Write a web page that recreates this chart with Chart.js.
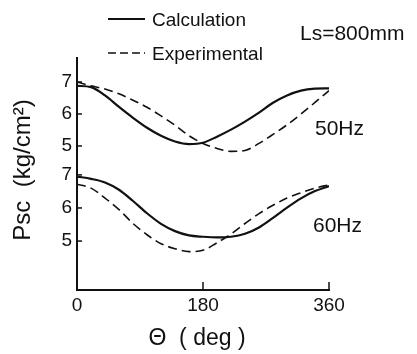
<!DOCTYPE html>
<html>
<head>
<meta charset="utf-8">
<title>Psc vs theta</title>
<script src="https://cdn.jsdelivr.net/npm/chart.js@4/dist/chart.umd.min.js"></script>
<style>
  body { margin: 0; background: #fff; }
  #wrap { width: 417px; height: 354px; position: relative; }
</style>
</head>
<body>
<div id="wrap"><canvas id="pscChart"></canvas></div>
<script>
// angle of the samples (deg)
const theta = [0, 20, 40, 60, 80, 100, 120, 140, 160, 180, 200, 220, 240, 260, 280, 300, 320, 340, 360];

// 50 Hz panel (kg/cm2)
const calc50 = [6.88, 6.84, 6.58, 6.22, 5.88, 5.57, 5.32, 5.14, 5.06, 5.10, 5.29, 5.51, 5.76, 6.04, 6.35, 6.58, 6.73, 6.79, 6.80];
const exp50  = [7.00, 6.88, 6.78, 6.63, 6.43, 6.21, 5.94, 5.65, 5.32, 5.08, 4.92, 4.83, 4.86, 5.08, 5.36, 5.66, 6.00, 6.36, 6.73];

// 60 Hz panel (kg/cm2)
const calc60 = [6.95, 6.88, 6.77, 6.55, 6.21, 5.84, 5.52, 5.30, 5.17, 5.13, 5.11, 5.13, 5.22, 5.41, 5.70, 6.01, 6.29, 6.51, 6.66];
const exp60  = [6.72, 6.60, 6.30, 5.95, 5.53, 5.19, 4.92, 4.77, 4.68, 4.72, 4.95, 5.21, 5.53, 5.83, 6.08, 6.30, 6.46, 6.60, 6.70];

const xTicks = [0, 180, 360];
const yTicks = [5, 6, 7];

const ink = '#111';
const fontFam = '"Liberation Sans", Arial, sans-serif';

function pts(ys) {
    return theta.map((t, i) => ({ x: t, y: ys[i] }));
}

function lineSet(label, ys, axis, dashed) {
    return {
        label: label,
        data: pts(ys),
        yAxisID: axis,
        borderColor: ink,
        borderWidth: dashed ? 1.6 : 2.2,
        borderDash: dashed ? [9, 5] : [],
        pointRadius: 0,
        fill: false,
        cubicInterpolationMode: 'monotone'
    };
}

// legend, panel labels, axis titles and inward tick marks
const decor = {
    id: 'decor',
    afterDraw(chart) {
        const ctx = chart.ctx;
        const xs = chart.scales.x;
        ctx.save();
        ctx.strokeStyle = ink;
        ctx.fillStyle = ink;

        // inward ticks
        ctx.lineWidth = 1.5;
        ['yT', 'yB'].forEach(id => {
            const s = chart.scales[id];
            yTicks.forEach(v => {
                const py = s.getPixelForValue(v);
                ctx.beginPath();
                ctx.moveTo(s.right, py);
                ctx.lineTo(s.right + 5, py);
                ctx.stroke();
            });
        });
        [180, 360].forEach(v => {
            const px = xs.getPixelForValue(v);
            ctx.beginPath();
            ctx.moveTo(px, xs.top);
            ctx.lineTo(px, xs.top - 8);
            ctx.stroke();
        });

        // legend
        ctx.lineWidth = 2.2;
        ctx.beginPath();
        ctx.moveTo(108, 19);
        ctx.lineTo(145, 19);
        ctx.stroke();
        ctx.lineWidth = 1.6;
        ctx.setLineDash([8, 4]);
        ctx.beginPath();
        ctx.moveTo(108, 53);
        ctx.lineTo(145, 53);
        ctx.stroke();
        ctx.setLineDash([]);

        ctx.textBaseline = 'middle';
        ctx.textAlign = 'left';
        ctx.font = '19px ' + fontFam;
        ctx.fillText('Calculation', 152, 21);
        ctx.fillText('Experimental', 152, 55);

        ctx.font = '21px ' + fontFam;
        ctx.fillText('Ls=800mm', 300, 34);
        ctx.fillText('50Hz', 315, 129);
        ctx.fillText('60Hz', 313, 226);

        // axis titles
        ctx.font = '23px ' + fontFam;
        ctx.textAlign = 'center';
        ctx.fillText('\u0398  ( deg )', 197, 339);

        ctx.font = '24px ' + fontFam;
        ctx.translate(23, 170);
        ctx.rotate(-Math.PI / 2);
        ctx.fillText('Psc  (kg/cm\u00B2)', 0, 0);
        ctx.restore();
    }
};

const ctx = document.getElementById('pscChart').getContext('2d');
new Chart(ctx, {
    type: 'line',
    data: {
        datasets: [
            lineSet('Calculation 50Hz', calc50, 'yT', false),
            lineSet('Experimental 50Hz', exp50, 'yT', true),
            lineSet('Calculation 60Hz', calc60, 'yB', false),
            lineSet('Experimental 60Hz', exp60, 'yB', true)
        ]
    },
    options: {
        responsive: true,
        maintainAspectRatio: false,
        animation: false,
        layout: { padding: { left: 0, top: 58, right: 88, bottom: 0 } },
        plugins: {
            legend: { display: false },
            tooltip: { enabled: false }
        },
        scales: {
            x: {
                type: 'linear',
                min: 0,
                max: 360,
                afterBuildTicks: s => { s.ticks = xTicks.map(v => ({ value: v })); },
                afterFit: s => { s.height = 64; },
                grid: { display: false, drawTicks: false },
                border: { display: true, color: ink, width: 2 },
                ticks: { color: ink, padding: 4, maxRotation: 0, font: { family: fontFam, size: 19 } }
            },
            yB: {
                type: 'linear',
                position: 'left',
                stack: 'panels',
                stackWeight: 129,
                weight: 0,
                min: 3.52,
                max: 7.42,
                afterBuildTicks: s => { s.ticks = yTicks.map(v => ({ value: v })); },
                afterFit: s => { s.width = 77; },
                grid: { display: false, drawTicks: false },
                border: { display: true, color: ink, width: 2 },
                ticks: { color: ink, padding: 5, font: { family: fontFam, size: 19 } }
            },
            yT: {
                type: 'linear',
                position: 'left',
                stack: 'panels',
                stackWeight: 103,
                weight: 1,
                min: 4.53,
                max: 7.75,
                afterBuildTicks: s => { s.ticks = yTicks.map(v => ({ value: v })); },
                afterFit: s => { s.width = 77; },
                grid: { display: false, drawTicks: false },
                border: { display: true, color: ink, width: 2 },
                ticks: { color: ink, padding: 5, font: { family: fontFam, size: 19 } }
            }
        }
    },
    plugins: [decor]
});
</script>
</body>
</html>
